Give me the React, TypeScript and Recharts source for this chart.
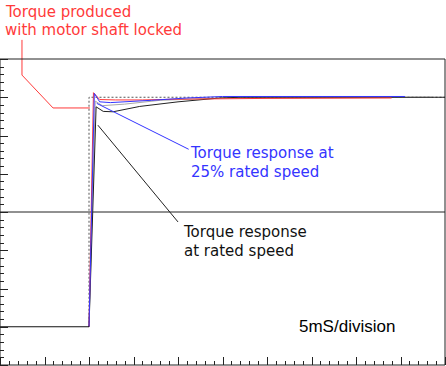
import React from "react";
import { LineChart, Line, XAxis, YAxis, ReferenceLine } from "recharts";

// time in ms (5 ms per division), torque in vertical divisions
const stepT = [0, 10];
const stepV = [-3, -3];

const commandT = [10, 10, 50];
const commandV = [-3, 3, 3];

const lockedT = [10, 10.5, 11.2, 13, 16, 20, 30, 44];
const lockedV = [-3, 3.12, 2.94, 2.93, 2.93, 2.95, 2.97, 2.98];

const quarterT = [10, 10.6, 11.2, 12.4, 17, 21, 25, 45.5];
const quarterV = [-3, 3.1, 2.88, 2.86, 2.92, 2.98, 3.02, 3.02];

const midT = [10, 10.7, 11.5, 14, 18, 25, 48.5];
const midV = [-3, 2.9, 2.78, 2.82, 2.92, 2.98, 3.0];

const ratedT = [10, 10.8, 11.6, 12.7, 15.7, 20, 24.7, 27, 50];
const ratedV = [-3, 2.75, 2.63, 2.62, 2.76, 2.88, 2.98, 3.0, 3.0];

// annotation leader lines
const lockedLeaderT = [2.47, 2.47, 5.96, 10.1];
const lockedLeaderV = [4.5, 3.58, 2.72, 2.72];
const quarterLeaderT = [10.87, 21.2];
const quarterLeaderV = [2.84, 1.64];
const ratedLeaderT = [11.0, 20.0];
const ratedLeaderV = [2.27, -0.26];

const xTicks = Array.from({ length: 51 }, (_, i) => i);
const yTicks = Array.from({ length: 41 }, (_, i) => -4 + i * 0.2);

const RED = "#ff3a3a";
const BLUE = "#3434ff";
const GRAY = "#a8a8a8";
const AXIS = "#222";

const toData = (t: number[], v: number[]) => t.map((x, i) => ({ t: x, v: v[i] }));

const segments = (t: number[], v: number[]) =>
  t.slice(1).map((x, i) => [
    { x: t[i], y: v[i] },
    { x, y: v[i + 1] },
  ]);

const tickLen = (index: number) => (index % 5 === 0 ? 8 : 4);
const px = (n: number) => Math.round(n) + 0.5;

const TopTick = (p: any) => (
  <line x1={px(p.x)} x2={px(p.x)} y1={p.y} y2={p.y + tickLen(p.index)} stroke={AXIS} shapeRendering="crispEdges" />
);
const BottomTick = (p: any) => (
  <line x1={px(p.x)} x2={px(p.x)} y1={p.y} y2={p.y - tickLen(p.index)} stroke={AXIS} shapeRendering="crispEdges" />
);
const LeftTick = (p: any) => (
  <line x1={p.x} x2={p.x + tickLen(p.index)} y1={px(p.y)} y2={px(p.y)} stroke={AXIS} shapeRendering="crispEdges" />
);
const RightTick = (p: any) => (
  <line x1={p.x} x2={p.x - tickLen(p.index)} y1={px(p.y)} y2={px(p.y)} stroke={AXIS} shapeRendering="crispEdges" />
);

const note = { fontFamily: "DejaVu Sans", fontSize: 15 };

export default function App() {
  return (
    <div style={{ position: "absolute", left: 0, top: 0, width: 446, height: 366 }}>
      <LineChart width={446} height={366} margin={{ top: 58, right: 0, bottom: 0, left: -1 }}>
        <XAxis
          xAxisId="b"
          type="number"
          dataKey="t"
          domain={[0, 50]}
          ticks={xTicks}
          interval={0}
          height={1}
          tickSize={0}
          tickMargin={0}
          stroke={AXIS}
          tick={BottomTick}
        />
        <XAxis
          xAxisId="t"
          orientation="top"
          type="number"
          dataKey="t"
          domain={[0, 50]}
          ticks={xTicks}
          interval={0}
          height={1}
          tickSize={0}
          tickMargin={0}
          stroke={AXIS}
          tick={TopTick}
        />
        <YAxis
          yAxisId="l"
          type="number"
          domain={[-4, 4]}
          ticks={yTicks}
          interval={0}
          width={1}
          tickSize={0}
          tickMargin={0}
          stroke={AXIS}
          tick={LeftTick}
        />
        <YAxis
          yAxisId="r"
          orientation="right"
          type="number"
          domain={[-4, 4]}
          ticks={yTicks}
          interval={0}
          width={1}
          tickSize={0}
          tickMargin={0}
          stroke={AXIS}
          tick={RightTick}
        />
        <ReferenceLine xAxisId="b" yAxisId="l" y={0} stroke="#222" />

        <Line xAxisId="b" yAxisId="l" data={toData(commandT, commandV)} dataKey="v" stroke="#555" strokeDasharray="2 2" dot={false} isAnimationActive={false} />
        <Line xAxisId="b" yAxisId="l" data={toData(midT, midV)} dataKey="v" stroke={GRAY} dot={false} isAnimationActive={false} />
        <Line xAxisId="b" yAxisId="l" data={toData(ratedT, ratedV)} dataKey="v" stroke="#222" dot={false} isAnimationActive={false} />
        <Line xAxisId="b" yAxisId="l" data={toData(lockedT, lockedV)} dataKey="v" stroke={RED} dot={false} isAnimationActive={false} />
        <Line xAxisId="b" yAxisId="l" data={toData(quarterT, quarterV)} dataKey="v" stroke={BLUE} dot={false} isAnimationActive={false} />
        <Line xAxisId="b" yAxisId="l" data={toData(stepT, stepV)} dataKey="v" stroke="#111" dot={false} isAnimationActive={false} />

        {segments(lockedLeaderT, lockedLeaderV).map((s, i) => (
          <ReferenceLine key={"r" + i} xAxisId="b" yAxisId="l" segment={s} stroke={RED} ifOverflow="visible" />
        ))}
        {segments(quarterLeaderT, quarterLeaderV).map((s, i) => (
          <ReferenceLine key={"q" + i} xAxisId="b" yAxisId="l" segment={s} stroke={BLUE} ifOverflow="visible" />
        ))}
        {segments(ratedLeaderT, ratedLeaderV).map((s, i) => (
          <ReferenceLine key={"k" + i} xAxisId="b" yAxisId="l" segment={s} stroke="#222" ifOverflow="visible" />
        ))}
      </LineChart>
      <svg width={446} height={366} style={{ position: "absolute", left: 0, top: 0, pointerEvents: "none" }}>
        <text x={6} y={17} fill={RED} {...note}>Torque produced</text>
        <text x={5} y={35} fill={RED} {...note}>with motor shaft locked</text>
        <text x={191} y={158} fill={BLUE} {...note}>Torque response at</text>
        <text x={191} y={177} fill={BLUE} {...note}>25% rated speed</text>
        <text x={184} y={237} fill="#111" {...note}>Torque response</text>
        <text x={184} y={256} fill="#111" {...note}>at rated speed</text>
        <text x={299} y={332} fill="#000" fontFamily="Liberation Sans" fontSize={17}>5mS/division</text>
      </svg>
    </div>
  );
}
